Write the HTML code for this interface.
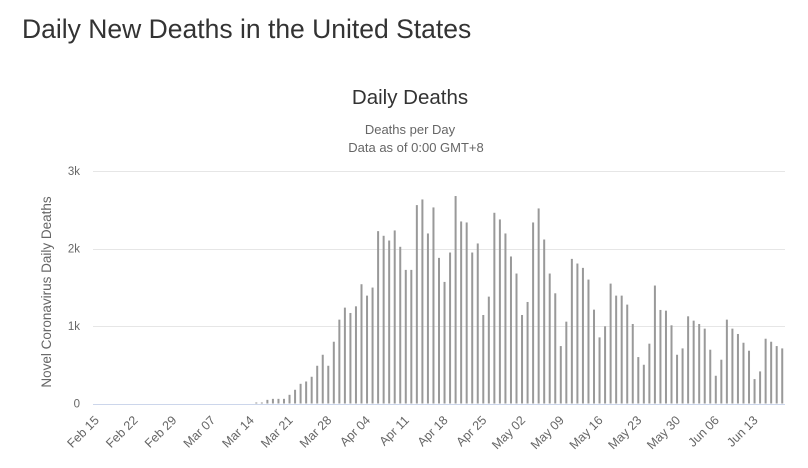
<!DOCTYPE html>
<html><head><meta charset="utf-8"><style>
body{margin:0;background:#fff;width:808px;height:468px;overflow:hidden;font-family:"Liberation Sans",sans-serif}
</style></head><body>
<div style="position:absolute;left:22px;top:14px;font-size:26.5px;color:#333">Daily New Deaths in the United States</div>
<svg id="c" width="808" height="468" style="position:absolute;left:0;top:0">
<text x="410" y="104" text-anchor="middle" font-size="20.5" fill="#333" font-family="Liberation Sans, sans-serif">Daily Deaths</text>
<text x="410" y="134" text-anchor="middle" font-size="13" fill="#666" font-family="Liberation Sans, sans-serif">Deaths per Day</text>
<text x="416" y="152" text-anchor="middle" font-size="13" fill="#666" font-family="Liberation Sans, sans-serif">Data as of 0:00 GMT+8</text>
<text transform="translate(51,292) rotate(-90)" text-anchor="middle" font-size="13.5" fill="#666" font-family="Liberation Sans, sans-serif">Novel Coronavirus Daily Deaths</text>
<g id="grid"></g><g id="bars"></g><g id="xl"></g>
</svg>
<script>
const yTicks=[0,1000,2000,3000];
const yTickLabels=["0","1k","2k","3k"];
const startDate="2020-02-15";
const deaths=[0,0,0,0,0,0,0,0,0,0,0,0,0,0,0,0,0,0,0,0,0,0,0,0,0,0,0,0,0,
13,13,47,60,60,60,112,177,254,284,345,487,629,487,797,1082,1237,1168,1254,1539,1392,1496,2224,2164,2103,2233,2022,1724,1724,2560,2633,2194,2530,1879,1569,1948,2677,2349,2336,1948,2065,1142,1379,2461,2375,2194,1897,1677,
1142,1310,2336,2517,2116,1677,1422,741,1056,1866,1806,1750,1599,1211,853,996,1547,1392,1392,1276,1026,599,500,772,1522,1207,1198,1009,629,711,1125,1069,1026,966,694,358,565,1082,966,897,784,681,315,414,836,797,741,711];
const months=["Jan","Feb","Mar","Apr","May","Jun","Jul"];
const categories=deaths.map((_,i)=>{const d=new Date(startDate+"T00:00:00Z");d.setUTCDate(d.getUTCDate()+i);return months[d.getUTCMonth()]+" "+String(d.getUTCDate()).padStart(2,"0");});
const NS="http://www.w3.org/2000/svg";
const X0=93,X1=785,Y0=403.5,Y3=171;
const band=(X1-X0)/categories.length;
const x=i=>X0+band*(i+0.5);
const y=v=>Y0-(Y0-Y3)*v/3000;
const g=document.getElementById('grid'),b=document.getElementById('bars'),xl=document.getElementById('xl');
yTicks.forEach((t,i)=>{
 const l=document.createElementNS(NS,'line');
 
 
 l.setAttribute('x1',X0);l.setAttribute('x2',X1);l.setAttribute('y1',Math.round(y(t))+0.5);l.setAttribute('y2',Math.round(y(t))+0.5);
 l.setAttribute('stroke',t===0?'#ccd6eb':'#e6e6e6');g.appendChild(l);
 const tx=document.createElementNS(NS,'text');
 
 
 tx.setAttribute('x',80);tx.setAttribute('y',y(t)+4);tx.setAttribute('text-anchor','end');tx.setAttribute('font-size','11.5');tx.setAttribute('fill','#666');tx.setAttribute('font-family','Liberation Sans, sans-serif');
 tx.textContent=yTickLabels[i];g.appendChild(tx);
});
deaths.forEach((v,i)=>{
 const r=document.createElementNS(NS,'rect');
 
 
 r.setAttribute('x',x(i)-1);r.setAttribute('width',2);r.setAttribute('y',y(v));r.setAttribute('height',Math.max(0,Y0-y(v)));r.setAttribute('fill','#999');
 b.appendChild(r);
 if(i%7===0){
  const tx=document.createElementNS(NS,'text');
  
  
  const px=x(i)+4,py=421;
  tx.setAttribute('transform','translate('+px+','+py+') rotate(-45)');tx.setAttribute('text-anchor','end');tx.setAttribute('font-size','12.5');tx.setAttribute('fill','#666');tx.setAttribute('font-family','Liberation Sans, sans-serif');
  tx.textContent=categories[i];xl.appendChild(tx);
 }
});
</script>
</body></html>
